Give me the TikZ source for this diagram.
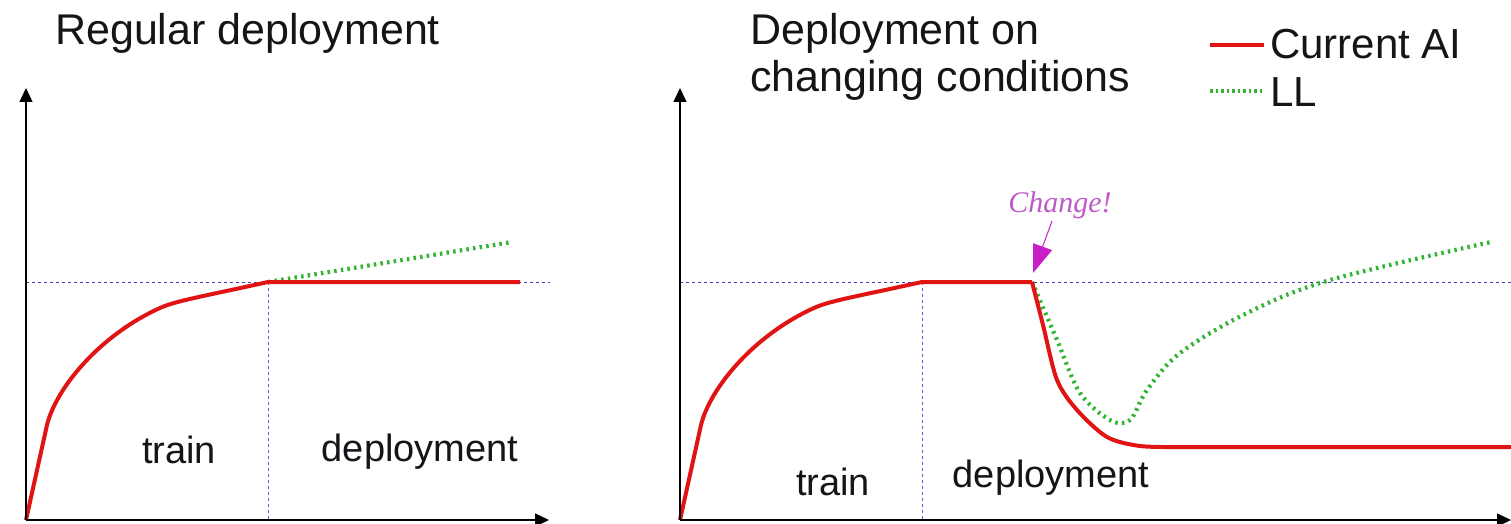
\documentclass[tikz,border=0pt]{standalone}
\usepackage{fontspec}
\setmainfont{Liberation Sans}
\newfontfamily\chfont{Liberation Serif}
\usetikzlibrary{arrows.meta}
\definecolor{curred}{RGB}{225,20,20}
\definecolor{llgreen}{RGB}{50,180,50}
\definecolor{refblue}{RGB}{60,60,190}
\definecolor{refpurple}{RGB}{120,80,210}
\definecolor{chmag}{RGB}{200,30,200}
\definecolor{chtext}{RGB}{190,90,200}
\definecolor{txt}{RGB}{20,20,25}
\tikzset{
  axis/.style={line width=1.4pt, black, -{Triangle[length=14pt,width=13pt]}},
  refline/.style={refblue, line width=0.9pt, dash pattern=on 2.5pt off 3.5pt},
  splitline/.style={refpurple, line width=0.9pt, dash pattern=on 2.5pt off 3.5pt},
  redcurve/.style={curred, line width=4pt, line join=round},
  greencurve/.style={llgreen, line width=4.2pt, dash pattern=on 2.5pt off 4.2pt},
  title/.style={anchor=base west, text=txt, font=\fontsize{43}{50}\selectfont, inner sep=0pt},
  lab/.style={text=txt, font=\fontsize{38}{44}\selectfont, inner sep=0pt},
  leg/.style={anchor=west, text=txt, font=\fontsize{42}{48}\selectfont, inner sep=0pt},
}
\begin{document}
\begin{tikzpicture}[x=1pt,y=-1pt]
\useasboundingbox (0,0) rectangle (1511,524);
% ---------- left panel ----------
\coordinate (lo) at (26,520);
\coordinate (ly) at (26,88);
\coordinate (lx) at (549,520);
\coordinate (lh1) at (26,282);
\coordinate (lh2) at (550,282);
\coordinate (lv1) at (268,282);
\coordinate (lv2) at (268,520);
\draw[refline] (lh1) -- (lh2);
\draw[splitline] (lv1) -- (lv2);
\draw[greencurve] (lv1) -- (512,242);
\draw[redcurve] (lo) -- (47,425) .. controls (56,388) and (100,335) .. (160,308) .. controls (175,301) and (200,297) .. (lv1) -- (520,282);
\draw[axis] (lo) -- (ly);
\draw[axis] (lo) -- (lx);
\node[title] (t1) at (55,45) {Regular deployment};
\node[lab] (tr1) at (179,450) {train};
\node[lab] (dp1) at (420,452) {deployment};
% ---------- right panel ----------
\coordinate (ro) at (680,520);
\coordinate (ry) at (680,88);
\coordinate (rx) at (1511,520);
\coordinate (rh1) at (680,282);
\coordinate (rh2) at (1511,282);
\coordinate (rv1) at (922,282);
\coordinate (rv2) at (922,520);
\coordinate (chg) at (1032,282);
\draw[refline] (rh1) -- (rh2);
\draw[splitline] (rv1) -- (rv2);
\draw[greencurve] plot[smooth, tension=0.55] coordinates {(1032,282) (1057,340) (1080,393) (1110,420) (1130,420) (1147,390) (1180,353) (1247,313) (1330,280) (1491,242)};
\draw[redcurve] (ro) -- (701,425) .. controls (710,388) and (754,335) .. (814,308) .. controls (829,301) and (854,297) .. (rv1) -- (chg) plot[smooth, tension=0.5] coordinates {(1032,282) (1043,325) (1057,380) (1077,410) (1107,437) (1140,446) (1180,447)} -- (1511,447);
\draw[axis] (ro) -- (ry);
\draw[axis] (ro) -- (rx);
\node[title] (t2a) at (750,45) {Deployment on};
\node[title] (t2b) at (750,92) {changing conditions};
\node[lab] (tr2) at (833,482) {train};
\node[lab] (dp2) at (1051,478) {deployment};
% change marker
\node[text=chtext, font=\fontsize{30}{34}\selectfont\chfont\itshape, inner sep=1pt] (ch) at (1060,205) {Change!};
\coordinate (chtip) at (1033,273);
\draw[chmag, line width=1pt, -{Triangle[length=28pt,width=20pt]}] (1052,221) -- (chtip);
% legend
\coordinate (la1) at (1210,45);
\coordinate (la2) at (1264,45);
\coordinate (lb1) at (1210,91);
\coordinate (lb2) at (1264,91);
\draw[redcurve] (la1) -- (la2);
\draw[greencurve, dash pattern=on 2.5pt off 3pt] (lb1) -- (lb2);
\node[leg] (lega) at (1270,44) {Current AI};
\node[leg] (legb) at (1270,92) {LL};
\end{tikzpicture}
\end{document}
